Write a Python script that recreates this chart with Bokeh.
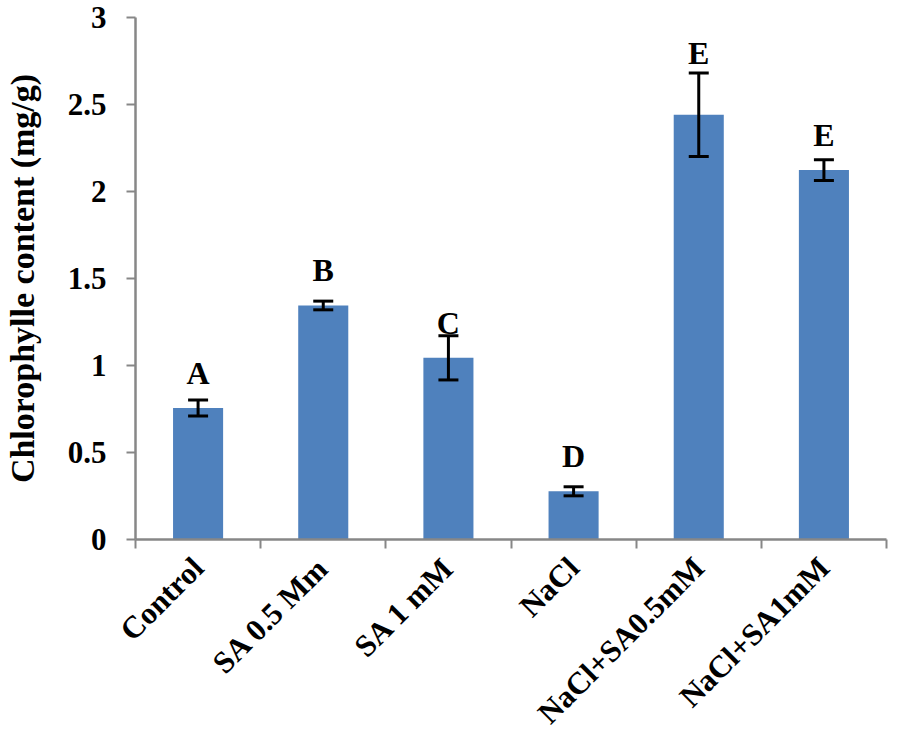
import numpy as np
from bokeh.plotting import figure
from bokeh.models import ColumnDataSource, Whisker, TeeHead, FixedTicker, Range1d
from bokeh.core.properties import value
from bokeh.embed import file_html
from bokeh.resources import INLINE

categories = ["Control", "SA 0.5 Mm", "SA 1 mM", "NaCl", "NaCl+SA0.5mM", "NaCl+SA1mM"]
means = [0.756, 1.345, 1.044, 0.277, 2.441, 2.123]
errors = [0.046, 0.025, 0.127, 0.026, 0.24, 0.06]
letters = ["A", "B", "C", "D", "E", "E"]
letter_y = [0.906, 1.50, 1.194, 0.427, 2.747, 2.273]
y_ticks = [0, 0.5, 1, 1.5, 2, 2.5, 3]
y_tick_labels = ["0", "0.5", "1", "1.5", "2", "2.5", "3"]

FONT = "Liberation Serif"
BAR = "#4F81BD"
AXIS = "#878787"

x = np.arange(len(categories)) + 0.5
src = ColumnDataSource(dict(
    x=x, top=means,
    upper=np.array(means) + np.array(errors),
    lower=np.array(means) - np.array(errors),
    letter=letters, ly=letter_y,
))

p = figure(width=890, height=745, output_backend="svg", toolbar_location=None,
           x_range=Range1d(0, len(categories)), y_range=Range1d(0, 3),
           min_border_top=17, min_border_right=4, min_border_left=0, min_border_bottom=0)

p.vbar(x="x", top="top", width=0.4, bottom=0, source=src, fill_color=BAR, line_color=None)

w = Whisker(base="x", upper="upper", lower="lower", source=src, level="overlay",
            line_color="black", line_width=3,
            upper_head=TeeHead(size=20, line_width=3, line_color="black"),
            lower_head=TeeHead(size=20, line_width=3, line_color="black"))
p.add_layout(w)

p.text(x="x", y="ly", text="letter", source=src, text_align="center", text_baseline="alphabetic",
       y_offset=-9,
       text_font=value(FONT), text_font_style="bold", text_font_size="32px", text_color="black")

p.xgrid.visible = False
p.ygrid.visible = False
p.outline_line_color = None

# x axis: labels at centres, ticks at boundaries (minor ticks)
xa = p.xaxis[0]
xa.ticker = FixedTicker(ticks=list(x), minor_ticks=list(range(len(categories) + 1)))
xa.major_label_overrides = {float(v): c for v, c in zip(x, categories)}
xa.major_tick_line_color = None
xa.major_tick_out = 0
xa.major_tick_in = 0
xa.minor_tick_line_color = AXIS
xa.minor_tick_line_width = 2
xa.minor_tick_out = 9
xa.minor_tick_in = 0
xa.axis_line_color = AXIS
xa.axis_line_width = 2.5
xa.major_label_orientation = np.pi / 4
xa.major_label_standoff = 14
xa.major_label_text_font = FONT
xa.major_label_text_font_style = "bold"
xa.major_label_text_font_size = "31px"
xa.major_label_text_color = "black"

ya = p.yaxis[0]
ya.ticker = FixedTicker(ticks=y_ticks, minor_ticks=[])
ya.major_label_overrides = {float(t): l for t, l in zip(y_ticks, y_tick_labels)}
ya.axis_line_color = AXIS
ya.axis_line_width = 2.5
ya.major_tick_line_color = AXIS
ya.major_tick_line_width = 2
ya.major_tick_out = 9
ya.major_tick_in = 0
ya.major_label_standoff = 20
ya.major_label_text_font = FONT
ya.major_label_text_font_style = "bold"
ya.major_label_text_font_size = "31px"
ya.major_label_text_color = "black"
ya.axis_label = "Chlorophylle content (mg/g)"
ya.axis_label_text_font = FONT
ya.axis_label_text_font_style = "bold"
ya.axis_label_text_font_size = "34px"
ya.axis_label_text_color = "black"
ya.axis_label_standoff = 24

open("out.html", "w").write(file_html(p, INLINE))
